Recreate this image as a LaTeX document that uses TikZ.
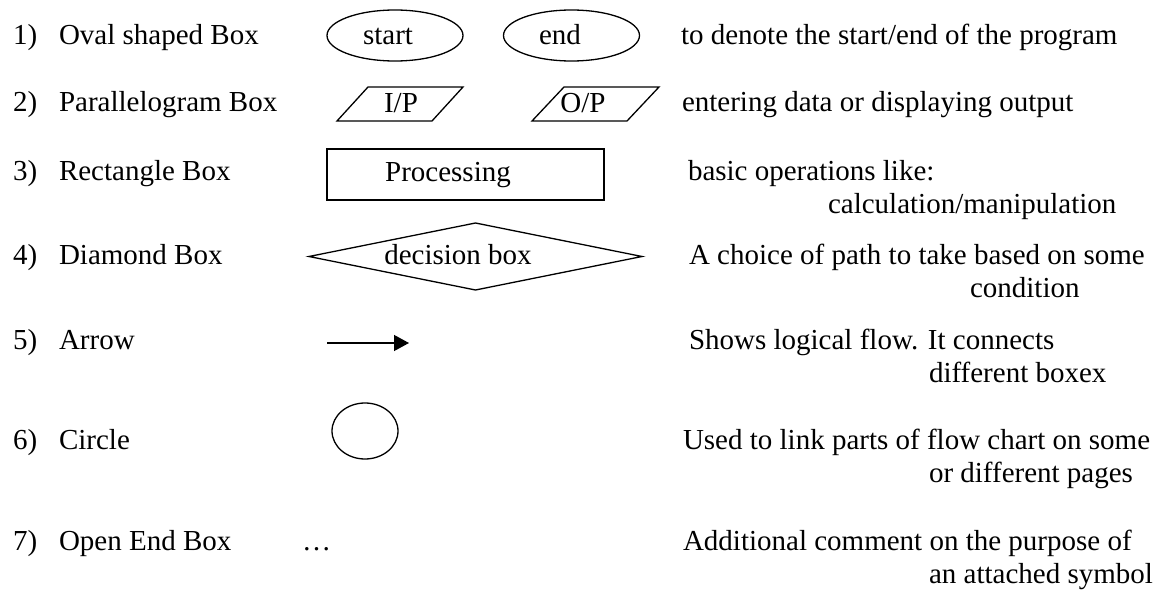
\documentclass[tikz,border=0pt]{standalone}
\usepackage{fontspec}
\setmainfont{Liberation Serif}
\usetikzlibrary{shapes.geometric,arrows.meta}
\begin{document}
\begin{tikzpicture}[x=1pt,y=-1pt,
  every node/.style={font=\fontsize{29}{33}\selectfont, inner sep=0pt, outer sep=0pt},
  txt/.style={anchor=base west},
  lbl/.style={anchor=base},
  shp/.style={draw, line width=1.3pt},
  oval/.style={shp, ellipse, minimum width=136pt, minimum height=51pt},
]
\useasboundingbox (0,0) rectangle (1162,591);

% numbers and names
\node[txt] (n1) at (13,45) {1)};
\node[txt] (n2) at (13,112) {2)};
\node[txt] (n3) at (13,180) {3)};
\node[txt] (n4) at (13,264) {4)};
\node[txt] (n5) at (13,349) {5)};
\node[txt] (n6) at (13,449) {6)};
\node[txt] (n7) at (13,550) {7)};
\node[txt] (l1) at (59,45) {Oval shaped Box};
\node[txt] (l2) at (59,112) {Parallelogram Box};
\node[txt] (l3) at (59,180) {Rectangle Box};
\node[txt] (l4) at (59,264) {Diamond Box};
\node[txt] (l5) at (59,349) {Arrow};
\node[txt] (l6) at (59,449) {Circle};
\node[txt] (l7) at (59,550) {Open End Box};

% 1) ovals
\node[oval] (startbox) at (395,35.5) {};
\node[oval] (endbox) at (571.5,35.5) {};
\node[lbl] (starttxt) at (388,45) {start};
\node[lbl] (endtxt) at (560,45) {end};

% 2) parallelograms
\draw[shp] (337,121) coordinate (ip1) -- (368,87) coordinate (ip2) -- (463,87) coordinate (ip3) -- (432,121) coordinate (ip4) -- cycle;
\draw[shp] (532,121) coordinate (op1) -- (564,87) coordinate (op2) -- (659,87) coordinate (op3) -- (627,121) coordinate (op4) -- cycle;
\node[lbl] (iptxt) at (401,113) {I/P};
\node[lbl] (optxt) at (583,113) {O/P};

% 3) rectangle
\draw[shp] (327,149) coordinate (r1) rectangle (604,200) coordinate (r2);
\node[lbl] (proctxt) at (448,181) {Processing};

% 4) diamond
\draw[shp] (309,256.5) coordinate (d1) -- (475.5,223) coordinate (d2) -- (642,256.5) coordinate (d3) -- (475.5,290) coordinate (d4) -- cycle;
\node[lbl] (dectxt) at (458,264) {decision box};

% 5) arrow
\coordinate (a1) at (327,343);
\coordinate (a2) at (409,343);
\draw[line width=1.3pt, -{Triangle[length=15pt,width=16pt]}] (a1) -- (a2);

% 6) circle
\node[shp, ellipse, minimum width=66pt, minimum height=56pt] (circ) at (365,431) {};

% 7) open end
\node[txt] (dots) at (302,550) {…};

% descriptions
\node[txt] (t1) at (681,45) {to denote the start/end of the program};
\node[txt] (t2) at (682,112) {entering data or displaying output};
\node[txt] (t3a) at (688,180) {basic operations like:};
\node[txt] (t3b) at (828,213) {calculation/manipulation};
\node[txt] (t4a) at (689,264) {A choice of path to take based on some};
\node[txt] (t4b) at (970,297) {condition};
\node[txt] (t5a) at (689,349) {Shows logical flow. It connects};
\node[txt] (t5b) at (929,382) {different boxex};
\node[txt] (t6a) at (683,449) {Used to link parts of flow chart on some};
\node[txt] (t6b) at (929,482) {or different pages};
\node[txt] (t7a) at (683,550) {Additional comment on the purpose of};
\node[txt] (t7b) at (929,583) {an attached symbol};
\end{tikzpicture}
\end{document}
